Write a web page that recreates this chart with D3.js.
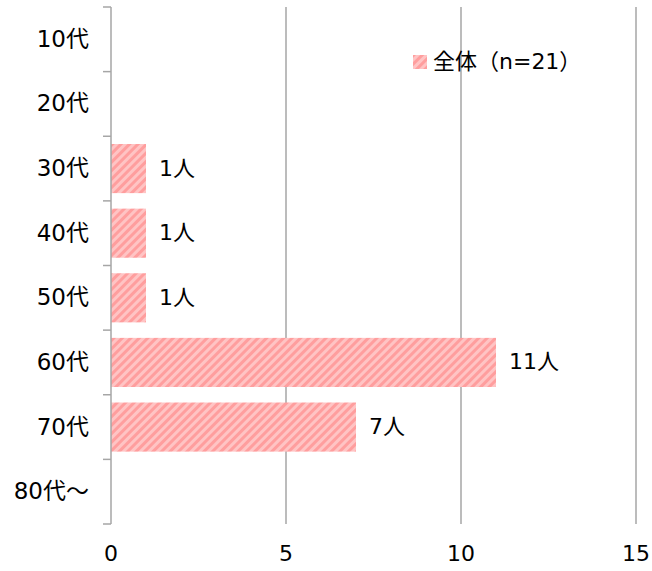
<!DOCTYPE html>
<html><head><meta charset="utf-8">
<script src="https://cdn.jsdelivr.net/npm/d3@7"></script>
<style>body{margin:0;background:#fff}svg{display:block}</style>
</head><body>
<script>
const categories = ["10代","20代","30代","40代","50代","60代","70代","80代～"];
const values = [0,0,1,1,1,11,7,0];
const xTicks = [0,5,10,15];
const seriesName = "全体（n=21）";
const unit = "人";

(function(){
const W=652,H=571;
const svg=d3.select("body").append("svg").attr("width",W).attr("height",H);
const font='"DejaVu Sans","Noto Sans CJK JP",sans-serif';
const mL=111,mR=636,mT=7,mB=524;
const x=d3.scaleLinear().domain([0,15]).range([mL,mR]);
const y=d3.scaleBand().domain(categories).range([mT,mB]).paddingInner(0.24).paddingOuter(0.12);
const yb=d3.scaleBand().domain(categories).range([mT,mB]);

const defs=svg.append("defs");
const pat=defs.append("pattern").attr("id","stripe").attr("patternUnits","userSpaceOnUse")
  .attr("width",6).attr("height",6).attr("patternTransform","rotate(45)");
pat.append("rect").attr("width",6).attr("height",6).attr("fill","#ffc4c4");
pat.append("rect").attr("width",3).attr("height",6).attr("fill","#ff9e9e");

// gridlines
svg.append("g").selectAll("line").data(xTicks.filter(d=>d>0)).join("line")
  .attr("x1",d=>x(d)).attr("x2",d=>x(d)).attr("y1",mT).attr("y2",mB)
  .attr("stroke","#a6a6a6").attr("stroke-width",1.5);

const data=categories.map((c,i)=>({c,v:values[i]})).filter(d=>d.v>0);
// bars
svg.append("g").selectAll("rect").data(data).join("rect")
  .attr("x",x(0)).attr("y",d=>y(d.c)).attr("width",d=>x(d.v)-x(0)).attr("height",y.bandwidth())
  .attr("fill","url(#stripe)");

// value labels
svg.append("g").selectAll("text").data(data).join("text")
  .attr("x",d=>x(d.v)+13).attr("y",d=>y(d.c)+y.bandwidth()/2+1).attr("dominant-baseline","middle")
  .attr("font-family",font).attr("font-size",22).attr("fill","#000").text(d=>d.v+unit);

// y axis
const ya=svg.append("g");
ya.append("line").attr("x1",mL).attr("x2",mL).attr("y1",mT).attr("y2",mB).attr("stroke","#a6a6a6").attr("stroke-width",1.5);
const bounds=categories.map(c=>yb(c)).concat([mB]);
ya.selectAll("line.t").data(bounds).join("line").attr("class","t")
  .attr("x1",mL-8).attr("x2",mL).attr("y1",d=>d).attr("y2",d=>d).attr("stroke","#a6a6a6").attr("stroke-width",1.5);
ya.selectAll("text").data(categories).join("text")
  .attr("x",89).attr("y",d=>yb(d)+yb.bandwidth()/2+1).attr("text-anchor","end").attr("dominant-baseline","middle")
  .attr("font-family",font).attr("font-size",23).attr("fill","#000").text(d=>d);

// x tick labels
svg.append("g").selectAll("text").data(xTicks).join("text")
  .attr("x",d=>x(d)).attr("y",555).attr("text-anchor","middle").attr("dominant-baseline","middle")
  .attr("font-family",font).attr("font-size",22).attr("fill","#000").text(d=>d);

// legend
const lg=svg.append("g");
lg.append("rect").attr("x",413).attr("y",55).attr("width",14).attr("height",14).attr("fill","url(#stripe)");
lg.append("text").attr("x",433).attr("y",63).attr("dominant-baseline","middle")
  .attr("font-family",font).attr("font-size",22).attr("fill","#000").text(seriesName);
})();
</script>
</body></html>
